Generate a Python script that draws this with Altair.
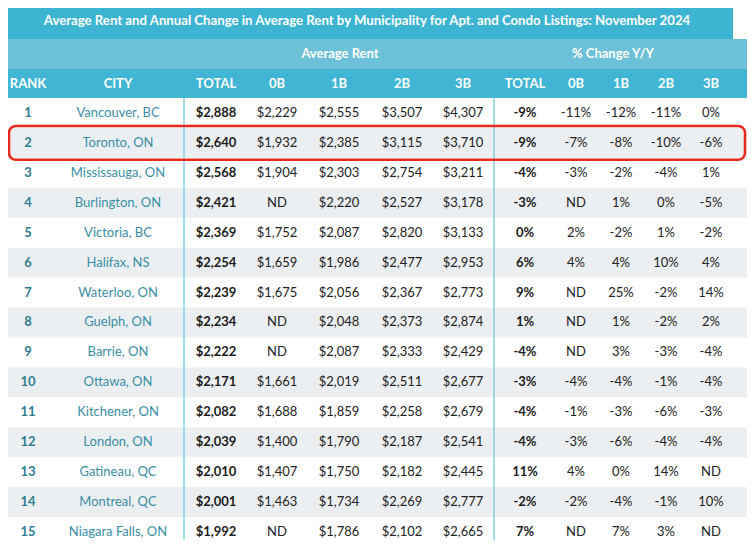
import altair as alt
import pandas as pd

# ---------------- data ----------------
ranks = list(range(1, 16))
cities = ["Vancouver, BC", "Toronto, ON", "Mississauga, ON", "Burlington, ON", "Victoria, BC",
          "Halifax, NS", "Waterloo, ON", "Guelph, ON", "Barrie, ON", "Ottawa, ON",
          "Kitchener, ON", "London, ON", "Gatineau, QC", "Montreal, QC", "Niagara Falls, ON"]
avg_total = [2888, 2640, 2568, 2421, 2369, 2254, 2239, 2234, 2222, 2171, 2082, 2039, 2010, 2001, 1992]
avg_0b = [2229, 1932, 1904, None, 1752, 1659, 1675, None, None, 1661, 1688, 1400, 1407, 1463, None]
avg_1b = [2555, 2385, 2303, 2220, 2087, 1986, 2056, 2048, 2087, 2019, 1859, 1790, 1750, 1734, 1786]
avg_2b = [3507, 3115, 2754, 2527, 2820, 2477, 2367, 2373, 2333, 2511, 2258, 2187, 2182, 2269, 2102]
avg_3b = [4307, 3710, 3211, 3178, 3133, 2953, 2773, 2874, 2429, 2677, 2679, 2541, 2445, 2777, 2665]
pct_total = [-9, -9, -4, -3, 0, 6, 9, 1, -4, -3, -4, -4, 11, -2, 7]
pct_0b = [-11, -7, -3, None, 2, 4, None, None, None, -4, -1, -3, 4, -2, None]
pct_1b = [-12, -8, -2, 1, -2, 4, 25, 1, 3, -4, -3, -6, 0, -4, 7]
pct_2b = [-11, -10, -4, 0, 1, 10, -2, -2, -3, -1, -6, -4, 14, -1, 3]
pct_3b = [0, -6, 1, -5, -2, 4, 14, 2, -4, -4, -3, -4, None, 10, None]

title_text = ("Average Rent and Annual Change in Average Rent by Municipality "
              "for Apt. and Condo Listings: November 2024")
group_labels = ["Average Rent", "% Change Y/Y"]
header_labels = ["RANK", "CITY", "TOTAL", "0B", "1B", "2B", "3B", "TOTAL", "0B", "1B", "2B", "3B"]
highlight_rank = 2

# ---------------- layout (reference pixel units) ----------------
col_x = [28, 118, 216, 277, 339, 402, 463, 525, 576, 621, 666, 711]
group_x = [340, 613]
ROW0, ROWH = 84, 30
W, H = 739, 532
X0 = 8

FONT = "Lato"
TEAL_TITLE = "#3cb4d2"
TEAL_SUB = "#6cc0d7"
TEAL_HEAD = "#40b6d4"
GRAY = "#eceff1"
SEP = "#8fd1e3"


def money(v):
    return "ND" if v is None else "${:,}".format(v)


def pct(v):
    return "ND" if v is None else "{}%".format(v)


def row_y(r):
    return ROW0 + ROWH * r


# background bands
bands = [
    dict(x=0, x2=733, y=2, y2=40, c=TEAL_TITLE),
    dict(x=0, x2=760, y=40, y2=70, c=TEAL_SUB),
    dict(x=0, x2=760, y=70, y2=99, c=TEAL_HEAD),
]
for r in ranks:
    if r % 2 == 0:
        bands.append(dict(x=0, x2=760, y=row_y(r) - 15, y2=row_y(r) + 15, c=GRAY))
bands_df = pd.DataFrame(bands)

# cell texts
bold_rows, reg_rows, city_rows, rank_rows = [], [], [], []
for i, r in enumerate(ranks):
    y = row_y(r)
    rank_rows.append(dict(x=col_x[0], y=y, t=str(r)))
    city_rows.append(dict(x=col_x[1], y=y, t=cities[i]))
    bold_rows.append(dict(x=col_x[2], y=y, t=money(avg_total[i])))
    bold_rows.append(dict(x=col_x[7], y=y, t=pct(pct_total[i])))
    for j, arr in enumerate([avg_0b, avg_1b, avg_2b, avg_3b]):
        reg_rows.append(dict(x=col_x[3 + j], y=y, t=money(arr[i])))
    for j, arr in enumerate([pct_0b, pct_1b, pct_2b, pct_3b]):
        reg_rows.append(dict(x=col_x[8 + j], y=y, t=pct(arr[i])))

head_rows = [dict(x=col_x[k], y=85, t=h) for k, h in enumerate(header_labels)]
head_rows += [dict(x=group_x[k], y=55, t=g) for k, g in enumerate(group_labels)]
title_rows = [dict(x=367, y=21, t=title_text)]

xs = alt.Scale(domain=[X0, X0 + W], nice=False, zero=False)
# piecewise vertical mapping (reference px -> chart px), rows slightly compressed to fit
ys = alt.Scale(domain=[8, 40, 99, 534], range=[0, 31, 90, 524], nice=False, zero=False)

X = lambda f="x": alt.X(f"{f}:Q", scale=xs, axis=None)
Y = lambda f="y": alt.Y(f"{f}:Q", scale=ys, axis=None)

band_layer = alt.Chart(bands_df).mark_rect().encode(
    x=X("x"), x2="x2", y=Y("y"), y2="y2", color=alt.Color("c:N", scale=None)
)

sep_df = pd.DataFrame([dict(x=184, y=99, y2=560), dict(x=494, y=99, y2=560)])
sep_layer = alt.Chart(sep_df).mark_rule(color=SEP, strokeWidth=1.6).encode(
    x=X("x"), y=Y("y"), y2="y2"
)

hl_df = pd.DataFrame([dict(x=9, x2=745, y=row_y(highlight_rank) - 17, y2=row_y(highlight_rank) + 17)])
hl_layer = alt.Chart(hl_df).mark_rect(
    fillOpacity=0, stroke="#e8291d", strokeWidth=2.5, cornerRadius=7
).encode(x=X("x"), x2="x2", y=Y("y"), y2="y2")


def text_layer(rows, color, weight, size=13):
    return alt.Chart(pd.DataFrame(rows)).mark_text(
        font=FONT, fontSize=size, fontWeight=weight, color=color,
        align="center", baseline="middle"
    ).encode(x=X("x"), y=Y("y"), text="t:N")


title_layer = text_layer(title_rows, "white", "bold", 13.2)
head_layer = text_layer(head_rows, "white", "bold", 13)
rank_layer = text_layer(rank_rows, "#2f7d92", "bold", 13)
city_layer = text_layer(city_rows, "#3a8ea4", "normal", 13)
bold_layer = text_layer(bold_rows, "#1b1b1b", "bold", 13)
reg_layer = text_layer(reg_rows, "#222222", "normal", 13)

chart = alt.layer(
    band_layer, sep_layer, hl_layer, title_layer, head_layer,
    rank_layer, city_layer, bold_layer, reg_layer
).properties(
    width=W, height=H, padding=0, autosize=alt.AutoSizeParams(type="none")
).configure_view(strokeWidth=0)

chart.save("out.html", embed_options={"renderer": "svg", "actions": False})
